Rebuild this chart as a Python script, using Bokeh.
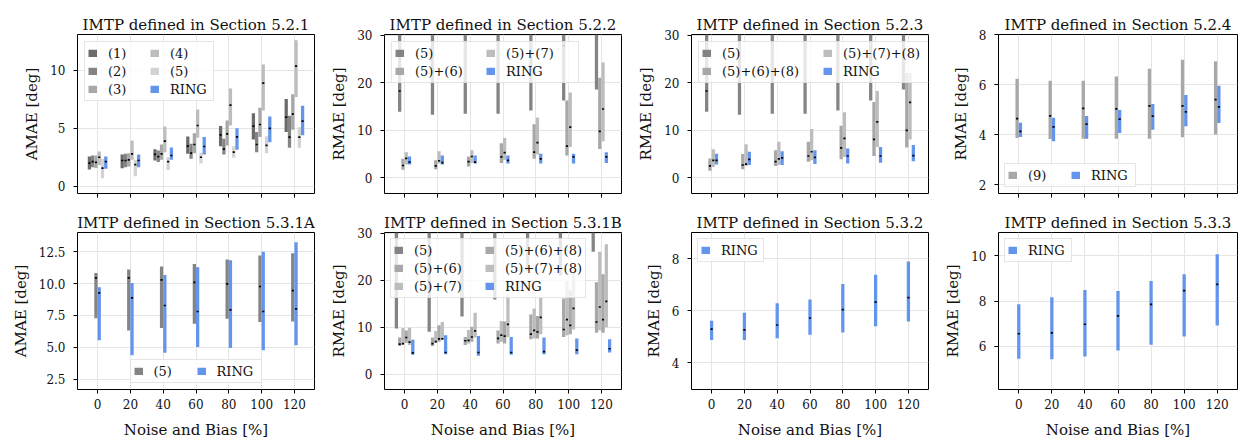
from bokeh.plotting import figure
from bokeh.models import (Range1d, FixedTicker, Legend, LegendItem, NumeralTickFormatter,
                          ColumnDataSource, GlobalInlineStyleSheet)
from bokeh.layouts import column, row
from bokeh.embed import file_html
from bokeh.resources import INLINE

FONT = "DejaVu Serif"
noise = [0, 20, 40, 60, 80, 100, 120]

# ---------------- Section 5.2.1 (AMAE) ----------------
s521_1_lo = [1.44, 1.56, 2.22, 2.80, 3.46, 4.03, 4.67]
s521_1_md = [1.99, 2.22, 2.74, 3.46, 4.44, 5.19, 5.97]
s521_1_hi = [2.56, 2.74, 3.20, 4.29, 5.20, 6.30, 7.52]
s521_2_lo = [1.64, 1.64, 2.10, 2.36, 2.74, 2.94, 3.31]
s521_2_md = [2.13, 2.22, 2.56, 2.85, 3.20, 3.60, 4.24]
s521_2_hi = [2.65, 2.80, 3.08, 3.66, 4.09, 4.67, 6.08]
s521_3_lo = [1.58, 1.70, 2.28, 2.85, 3.52, 4.24, 4.87]
s521_3_md = [2.05, 2.28, 2.80, 3.60, 4.52, 5.33, 6.22]
s521_3_hi = [2.65, 2.85, 3.60, 4.58, 5.68, 6.77, 7.93]
s521_4_lo = [1.84, 2.28, 2.94, 4.18, 5.24, 6.54, 7.70]
s521_4_md = [2.50, 2.80, 3.89, 5.24, 7.00, 8.90, 10.37]
s521_4_hi = [3.00, 3.95, 5.16, 6.63, 8.44, 10.50, 12.60]
s521_5_lo = [0.69, 0.86, 1.41, 1.96, 2.45, 2.85, 3.31]
s521_5_md = [1.56, 1.87, 2.13, 2.50, 2.94, 3.52, 4.24]
s521_5_hi = [2.36, 2.28, 2.50, 2.88, 3.46, 4.32, 5.10]
s521_r_lo = [1.50, 1.64, 2.28, 2.74, 3.14, 3.80, 4.41]
s521_r_md = [2.13, 2.22, 2.65, 3.43, 4.26, 4.99, 5.62]
s521_r_hi = [2.56, 2.74, 3.34, 4.24, 5.00, 6.02, 6.95]

# ---------------- Section 5.2.2 (RMAE) ----------------
s522_5_lo = [13.9, 13.3, 13.5, 13.5, 14.2, 16.3, 18.6]
s522_5_md = [18.3, 32.0, 32.0, 32.0, 32.0, 27.8, 32.0]
s522_5_hi = [34.0, 40.0, 40.0, 40.0, 40.0, 40.0, 40.0]
s522_56_lo = [1.7, 1.8, 2.4, 3.1, 4.0, 4.7, 6.1]
s522_56_md = [2.6, 2.5, 3.4, 4.4, 5.4, 6.7, 9.8]
s522_56_hi = [4.0, 3.7, 4.5, 7.3, 11.3, 16.3, 21.1]
s522_57_lo = [2.8, 3.0, 3.1, 3.8, 4.9, 6.5, 7.7]
s522_57_md = [4.1, 3.6, 4.5, 5.3, 7.4, 10.7, 14.5]
s522_57_hi = [5.4, 5.6, 5.8, 8.4, 12.7, 18.0, 24.3]
s522_r_lo = [2.8, 2.8, 3.0, 3.0, 3.0, 3.0, 3.1]
s522_r_md = [3.3, 3.2, 3.3, 3.7, 4.0, 4.4, 4.4]
s522_r_hi = [4.5, 4.7, 4.7, 4.7, 5.1, 5.1, 5.4]

# ---------------- Section 5.2.3 (RMAE) ----------------
s523_5_lo = [13.9, 13.3, 13.5, 13.5, 14.2, 16.3, 18.6]
s523_5_md = [18.3, 32.0, 32.0, 32.0, 32.0, 32.0, 32.0]
s523_5_hi = [34.0, 40.0, 40.0, 40.0, 40.0, 40.0, 40.0]
s523_568_lo = [1.5, 1.8, 2.5, 3.4, 3.9, 4.6, 6.4]
s523_568_md = [2.5, 2.7, 3.4, 4.6, 6.3, 8.1, 10.0]
s523_568_hi = [4.1, 5.0, 5.8, 7.6, 11.0, 16.0, 22.1]
s523_578_lo = [2.3, 2.5, 2.7, 3.7, 4.4, 6.5, 8.1]
s523_578_md = [3.7, 2.9, 4.0, 5.5, 8.3, 11.8, 15.9]
s523_578_hi = [6.0, 7.1, 7.6, 10.3, 13.8, 18.3, 22.1]
s523_r_lo = [2.8, 2.7, 2.7, 2.9, 3.0, 3.2, 3.5]
s523_r_md = [3.7, 3.9, 4.2, 4.3, 4.6, 4.6, 4.7]
s523_r_hi = [5.1, 5.5, 5.6, 5.8, 6.2, 6.5, 6.9]

# ---------------- Section 5.2.4 (RMAE) ----------------
s524_9_lo = [3.87, 3.83, 3.84, 3.84, 3.84, 3.90, 4.01]
s524_9_md = [4.64, 4.75, 5.05, 5.03, 5.15, 5.15, 5.40]
s524_9_hi = [6.23, 6.15, 6.15, 6.32, 6.63, 6.99, 6.93]
s524_r_lo = [3.91, 3.74, 3.84, 4.07, 4.20, 4.34, 4.47]
s524_r_md = [4.13, 4.31, 4.42, 4.62, 4.74, 4.91, 5.11]
s524_r_hi = [4.48, 4.68, 4.75, 4.98, 5.22, 5.58, 5.95]

# ---------------- Section 5.3.1A (AMAE) ----------------
s531a_5_lo = [7.29, 6.33, 6.51, 6.85, 7.24, 6.98, 7.03]
s531a_5_md = [10.44, 10.44, 10.29, 10.10, 9.97, 9.77, 9.45]
s531a_5_hi = [10.83, 11.10, 11.33, 11.54, 11.88, 12.19, 12.37]
s531a_r_lo = [5.55, 4.38, 4.58, 5.03, 4.95, 4.77, 5.16]
s531a_r_md = [9.27, 8.88, 8.28, 7.81, 7.94, 7.81, 8.02]
s531a_r_hi = [9.71, 10.05, 10.68, 11.28, 11.82, 12.50, 13.23]

# ---------------- Section 5.3.1B (RMAE) ----------------
s531b_5_lo = [9.7, 9.0, 12.3, 15.9, 22.0, 21.0, 26.1]
s531b_5_md = [32.0, 32.0, 32.0, 32.0, 32.0, 32.0, 32.0]
s531b_5_hi = [40.0, 40.0, 40.0, 40.0, 40.0, 40.0, 40.0]
s531b_56_lo = [6.0, 6.0, 6.2, 6.5, 7.4, 7.9, 8.8]
s531b_56_md = [6.4, 6.5, 7.1, 7.6, 8.5, 9.5, 11.1]
s531b_56_hi = [7.8, 7.8, 7.9, 9.3, 12.7, 16.1, 19.6]
s531b_57_lo = [6.2, 6.7, 6.5, 6.9, 7.6, 8.3, 9.3]
s531b_57_md = [6.5, 6.9, 7.2, 8.3, 9.3, 11.6, 14.3]
s531b_57_hi = [9.8, 9.2, 9.4, 11.3, 14.0, 19.8, 26.1]
s531b_568_lo = [6.7, 6.9, 6.9, 6.5, 7.6, 8.5, 8.8]
s531b_568_md = [7.8, 7.5, 7.9, 8.1, 9.0, 10.4, 11.6]
s531b_568_hi = [9.3, 10.4, 10.1, 11.2, 12.4, 17.8, 21.3]
s531b_578_lo = [6.2, 7.4, 7.8, 7.9, 8.5, 9.5, 10.0]
s531b_578_md = [6.8, 7.5, 9.2, 10.6, 12.1, 14.0, 15.5]
s531b_578_hi = [9.9, 11.1, 13.1, 16.9, 16.2, 21.9, 27.7]
s531b_r_lo = [4.1, 4.2, 3.9, 4.1, 4.2, 4.2, 4.6]
s531b_r_md = [4.5, 4.6, 4.6, 4.6, 4.8, 5.1, 5.4]
s531b_r_hi = [7.3, 8.3, 8.1, 7.9, 7.8, 7.6, 7.4]

# ---------------- Section 5.3.2 / 5.3.3 (RMAE, RING only) ----------------
s532_r_lo = [4.87, 4.87, 4.94, 5.07, 5.16, 5.40, 5.58]
s532_r_md = [5.29, 5.26, 5.45, 5.72, 6.04, 6.33, 6.51]
s532_r_hi = [5.61, 5.92, 6.29, 6.43, 7.03, 7.39, 7.90]
s533_r_lo = [5.46, 5.44, 5.56, 5.82, 6.07, 6.44, 6.92]
s533_r_md = [6.56, 6.60, 6.98, 7.35, 7.86, 8.46, 8.74]
s533_r_hi = [7.86, 8.17, 8.49, 8.45, 8.89, 9.19, 10.07]

RING = "#6495ed"
G1, G2, G3, G4, G5 = "#6c6c6c", "#848484", "#a8a8a8", "#bdbdbd", "#d3d3d3"
TEXT = "#111111"
NAN = float("nan")


def make_fig(title, ylabel, yr, yticks, col, bottom_row, fmt=None):
    left = 77 if col == 0 else 69
    width = 315 if col == 0 else (309 if col == 3 else 307)
    top = 26 if bottom_row else 34
    bottom = 50 if bottom_row else 13
    p = figure(width=width, height=top + 159 + bottom,
               x_range=Range1d(-12.25, 132.25), y_range=Range1d(*yr),
               output_backend="svg", toolbar_location=None, tools="",
               min_border_left=left, min_border_right=1, min_border_top=top,
               min_border_bottom=bottom, title=title)
    p.background_fill_color = "white"
    p.border_fill_color = "white"
    p.outline_line_color = "black"
    p.outline_line_width = 1
    p.title.text_font = FONT
    p.title.text_font_size = "15px"
    p.title.text_font_style = "normal"
    p.title.text_color = TEXT
    p.title.align = "center"
    p.title.standoff = 2
    p.xaxis.ticker = FixedTicker(ticks=noise)
    p.yaxis.ticker = FixedTicker(ticks=yticks)
    if fmt is not None:
        p.yaxis.formatter = fmt
    for ax in (p.xaxis[0], p.yaxis[0]):
        ax.axis_line_color = None
        ax.major_tick_line_color = "black"
        ax.major_tick_in = 0
        ax.major_tick_out = 4
        ax.minor_tick_line_color = None
        ax.major_label_text_font = FONT
        ax.major_label_text_font_size = "12px"
        ax.major_label_text_color = TEXT
        ax.axis_label_text_font = FONT
        ax.axis_label_text_font_size = "15px"
        ax.axis_label_text_font_style = "normal"
        ax.axis_label_text_color = TEXT
    p.yaxis.axis_label = ylabel
    p.yaxis.major_label_standoff = 8
    p.yaxis.axis_label_standoff = 6
    if bottom_row:
        p.xaxis.axis_label = "Noise and Bias [%]"
        p.xaxis.major_label_standoff = 5
        p.xaxis.axis_label_standoff = 9
    else:
        # top row: tick marks only, no tick labels
        p.xaxis.major_label_text_font_size = "0px"
        p.xaxis.major_label_text_color = None
        p.xaxis.major_label_text_alpha = 0
        p.xaxis.major_label_standoff = 0
    p.grid.grid_line_color = "#e5e5e5"
    p.grid.grid_line_width = 1
    return p


def draw_series(p, series, offsets):
    """Draw range bars (low..high) with a black median mark; return legend proxies."""
    proxies = {}
    srcs = []
    for (label, color, lo, md, hi), off in zip(series, offsets):
        src = ColumnDataSource(dict(x=[v + off for v in noise], lo=lo, md=md, hi=hi))
        p.vbar(x="x", bottom="lo", top="hi", width=2.0, source=src,
               fill_color=color, line_color=None)
        srcs.append(src)
        # legend swatch: a thick line with an undefined point, so it only shows in the legend
        proxies[label] = p.line(x=[noise[0]], y=[NAN], line_color=color, line_width=7.5)
    for src in srcs:
        p.rect(x="x", y="md", width=1.3, height=1.7, height_units="screen",
               source=src, fill_color="black", line_color=None)
    return proxies


def add_legend(p, rends, labels, location, margin, label_width, nrows=None, ncols=None,
               orientation="vertical"):
    items = [LegendItem(label=lab, renderers=[rends[lab]]) for lab in labels]
    kw = {}
    if nrows is not None:
        kw["nrows"] = nrows
    if ncols is not None:
        kw["ncols"] = ncols
    lg = Legend(items=items, location=location, orientation=orientation, margin=margin,
                padding=3, spacing=2, glyph_width=9, glyph_height=8, label_height=16,
                label_width=label_width, label_standoff=11,
                label_text_font=FONT, label_text_font_size="13px", label_text_color=TEXT,
                border_line_color="#cccccc", border_line_width=1,
                background_fill_color="white", background_fill_alpha=0.8, **kw)
    p.add_layout(lg)


# ---- panel 1
p1 = make_fig("IMTP defined in Section 5.2.1", "AMAE [deg]", (-0.63, 13.1), [0, 5, 10], 0, False)
r1 = draw_series(p1, [
    ("(1)", G1, s521_1_lo, s521_1_md, s521_1_hi),
    ("(2)", G2, s521_2_lo, s521_2_md, s521_2_hi),
    ("(3)", G3, s521_3_lo, s521_3_md, s521_3_hi),
    ("(4)", G4, s521_4_lo, s521_4_md, s521_4_hi),
    ("(5)", G5, s521_5_lo, s521_5_md, s521_5_hi),
    ("RING", RING, s521_r_lo, s521_r_md, s521_r_hi)], [-5, -3, -1, 1, 3, 5])
add_legend(p1, r1, ["(1)", "(2)", "(3)", "(4)", "(5)", "RING"], "top_left", 7, 40, nrows=3, ncols=2)

# ---- panel 2
p2 = make_fig("IMTP defined in Section 5.2.2", "RMAE [deg]", (-3.3, 30.2), [0, 10, 20, 30], 1, False)
r2 = draw_series(p2, [
    ("(5)", G2, s522_5_lo, s522_5_md, s522_5_hi),
    ("(5)+(6)", G3, s522_56_lo, s522_56_md, s522_56_hi),
    ("(5)+(7)", G4, s522_57_lo, s522_57_md, s522_57_hi),
    ("RING", RING, s522_r_lo, s522_r_md, s522_r_hi)], [-3, -1, 1, 3])
add_legend(p2, r2, ["(5)", "(5)+(6)", "(5)+(7)", "RING"], "top_left", 7, 69, nrows=2, ncols=2)

# ---- panel 3
p3 = make_fig("IMTP defined in Section 5.2.3", "RMAE [deg]", (-3.3, 30.2), [0, 10, 20, 30], 2, False)
r3 = draw_series(p3, [
    ("(5)", G2, s523_5_lo, s523_5_md, s523_5_hi),
    ("(5)+(6)+(8)", G3, s523_568_lo, s523_568_md, s523_568_hi),
    ("(5)+(7)+(8)", G4, s523_578_lo, s523_578_md, s523_578_hi),
    ("RING", RING, s523_r_lo, s523_r_md, s523_r_hi)], [-3, -1, 1, 3])
add_legend(p3, r3, ["(5)", "(5)+(6)+(8)", "(5)+(7)+(8)", "RING"], "top_left", 7, 99, nrows=2, ncols=2)

# ---- panel 4
p4 = make_fig("IMTP defined in Section 5.2.4", "RMAE [deg]", (1.65, 8.0), [2, 4, 6, 8], 3, False)
r4 = draw_series(p4, [
    ("(9)", G3, s524_9_lo, s524_9_md, s524_9_hi),
    ("RING", RING, s524_r_lo, s524_r_md, s524_r_hi)], [-1, 1])
add_legend(p4, r4, ["(9)", "RING"], "bottom_left", 6, 41, orientation="horizontal")

# ---- panel 5
p5 = make_fig("IMTP defined in Section 5.3.1A", "AMAE [deg]", (1.7, 14.0),
              [2.5, 5.0, 7.5, 10.0, 12.5], 0, True, NumeralTickFormatter(format="0.0"))
r5 = draw_series(p5, [
    ("(5)", G2, s531a_5_lo, s531a_5_md, s531a_5_hi),
    ("RING", RING, s531a_r_lo, s531a_r_md, s531a_r_hi)], [-1, 1])
add_legend(p5, r5, ["(5)", "RING"], "bottom_center", 6, 41, orientation="horizontal")

# ---- panel 6
p6 = make_fig("IMTP defined in Section 5.3.1B", "RMAE [deg]", (-3.3, 30.2), [0, 10, 20, 30], 1, True)
r6 = draw_series(p6, [
    ("(5)", G2, s531b_5_lo, s531b_5_md, s531b_5_hi),
    ("(5)+(6)", G3, s531b_56_lo, s531b_56_md, s531b_56_hi),
    ("(5)+(7)", G4, s531b_57_lo, s531b_57_md, s531b_57_hi),
    ("(5)+(6)+(8)", G3, s531b_568_lo, s531b_568_md, s531b_568_hi),
    ("(5)+(7)+(8)", G4, s531b_578_lo, s531b_578_md, s531b_578_hi),
    ("RING", RING, s531b_r_lo, s531b_r_md, s531b_r_hi)], [-5, -3, -1, 1, 3, 5])
add_legend(p6, r6, ["(5)", "(5)+(6)", "(5)+(7)", "(5)+(6)+(8)", "(5)+(7)+(8)", "RING"],
           "top_left", 6, 69, nrows=3, ncols=2)

# ---- panel 7
p7 = make_fig("IMTP defined in Section 5.3.2", "RMAE [deg]", (2.96, 9.02), [4, 6, 8], 2, True)
r7 = draw_series(p7, [("RING", RING, s532_r_lo, s532_r_md, s532_r_hi)], [0])
add_legend(p7, r7, ["RING"], "top_left", 6, 39)

# ---- panel 8
p8 = make_fig("IMTP defined in Section 5.3.3", "RMAE [deg]", (4.1, 11.03), [6, 8, 10], 3, True)
r8 = draw_series(p8, [("RING", RING, s533_r_lo, s533_r_md, s533_r_hi)], [0])
add_legend(p8, r8, ["RING"], "top_left", 6, 40)

layout = column(row(p1, p2, p3, p4), row(p5, p6, p7, p8),
                stylesheets=[GlobalInlineStyleSheet(css="html, body { overflow: hidden; }")])

open("out.html", "w").write(file_html(layout, INLINE))
